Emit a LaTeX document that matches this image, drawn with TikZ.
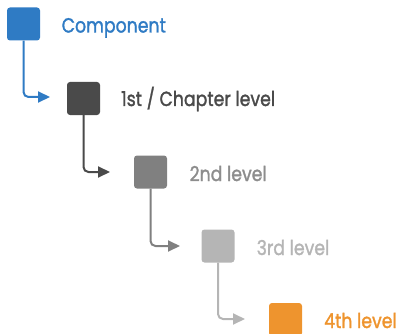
\documentclass[tikz,border=0pt]{standalone}
\usepackage{fontspec}
\setmainfont{Poppins}[FakeBold=1.6]
\usetikzlibrary{arrows.meta}
\definecolor{cblue}{HTML}{2F7BC4}
\definecolor{cdark}{HTML}{4A4A4A}
\definecolor{cmid}{HTML}{808080}
\definecolor{clight}{HTML}{B5B5B5}
\definecolor{corange}{HTML}{EE942E}
\newcommand{\lbltext}[1]{\scalebox{1}[1.18]{#1}}
\tikzset{
  sq/.style={rounded corners=3pt, minimum size=33pt, inner sep=0pt, draw=none},
  lbl/.style={anchor=base west, inner sep=0pt, font=\fontsize{17.3}{19}\selectfont},
  conn/.style={line width=2pt, rounded corners=5pt, -{Triangle[length=12pt,width=11pt]}}
}
\begin{document}
\begin{tikzpicture}[x=1pt,y=-1pt]
\useasboundingbox (0,0) rectangle (401,334);
\clip (0,0) rectangle (401,334);
\node[sq, fill=cblue] (b1) at (23.5,24) {};
\node[lbl, text=cblue] (t1) at (61.5,32.5) {\lbltext{Component}};
\node[sq, fill=cdark] (b2) at (83.5,98.5) {};
\node[lbl, text=cdark] (t2) at (121,106) {\lbltext{1st / Chapter level}};
\node[sq, fill=cmid] (b3) at (150.5,172) {};
\node[lbl, text=cmid!90!white] (t3) at (189.5,181) {\lbltext{2nd level}};
\node[sq, fill=clight] (b4) at (218,246) {};
\node[lbl, text=clight] (t4) at (256.5,255) {\lbltext{3rd level}};
\node[sq, fill=corange] (b5) at (285.5,319.5) {};
\node[lbl, text=corange] (t5) at (324,328) {\lbltext{4th level}};
\coordinate (a1) at (50,97);
\coordinate (a2) at (110,172);
\coordinate (a3) at (180,246);
\coordinate (a4) at (245,319);
\draw[conn, cblue] (b1.south) |- (a1);
\draw[conn, cdark] (b2.south) |- (a2);
\draw[conn, cmid] (b3.south) |- (a3);
\draw[conn, clight] (b4.south) |- (a4);
\end{tikzpicture}
\end{document}
